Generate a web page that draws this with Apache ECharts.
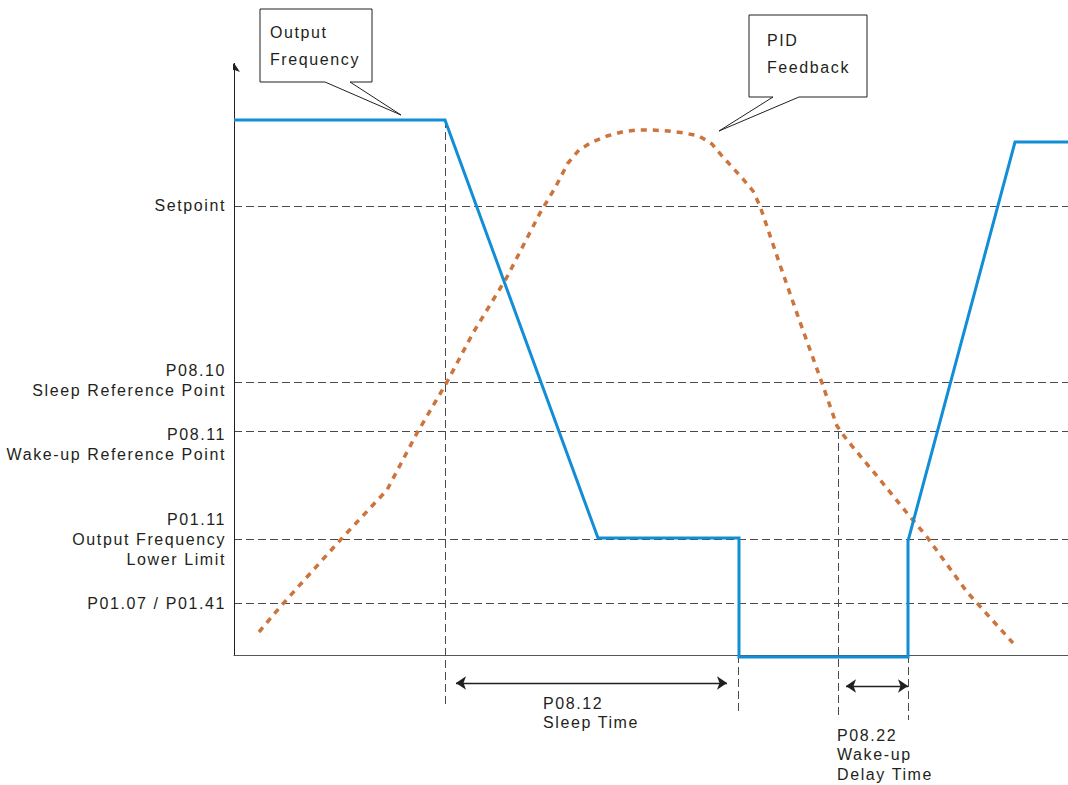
<!DOCTYPE html>
<html><head><meta charset="utf-8">
<script src="https://cdn.jsdelivr.net/npm/echarts@6/dist/echarts.min.js"></script>
<style>html,body{margin:0;padding:0;background:#fff}#c{width:1068px;height:785px}#c text{letter-spacing:1.6px}</style>
</head><body><div id="c"></div>
<script>
// ---- data (x: time units, y: level units) ----
const levelNames = ['Setpoint', 'P08.10\nSleep Reference Point', 'P08.11\nWake-up Reference Point', 'P01.11\nOutput Frequency\nLower Limit', 'P01.07 / P01.41'];
const levelValues = [449, 273, 224, 116, 52];

const outputFreqX = [0, 211, 364, 505, 505, 674, 674, 781, 834];
const outputFreqY = [535, 535, 117, 117, -2, -2, 114, 513, 513];

const pidX = [25, 46, 109, 153, 183, 213, 239, 273, 306, 321, 334, 345, 358, 373, 388, 403, 419, 434, 450, 465, 478, 488, 499, 509, 519, 526, 546, 566, 588, 603, 613, 643, 673, 693, 733, 779];
const pidY = [23, 48, 118, 165, 222, 273, 322, 378, 442, 467, 492, 505, 513, 519, 523, 525, 525, 524, 522, 519, 511, 499, 487, 476, 464, 449, 390, 333, 272, 229, 215, 179, 142, 118, 63, 12];

const markerX = [211, 504, 604, 674];
const markerTop = [535, 0, 224, 0];
const markerBottom = [-50, -58, -63, -65];

const spanNames = ['P08.12\nSleep Time', 'P08.22\nWake-up\nDelay Time'];
const spanStart = [222, 612];
const spanEnd = [493, 674];
const spanY = [-28, -31];
const spanLabelPos = [[309, -58], [603, -99.5]];

const calloutNames = ['Output\nFrequency', 'PID\nFeedback'];
const calloutTip = [[167, 540], [485, 524]];
const calloutBox = [[26, 646], [515, 640]];

const axisTop = 592;

// ---- styles ----
const TXT = '#231f20';
const FONT = 'Liberation Sans';
const FS = 16;
const levelLabelOffsets = [-1, -2, 13, 0, 0];
const calloutSize = [[112, 73, 65, 90, 10, 23], [118, 82, 24, 50, 18, 25]];

const zip = (a, b) => a.map((v, i) => [v, b[i]]);

const guideLines = [];
levelValues.forEach(v => guideLines.push({coords: [[0, v], [834, v]]}));
markerX.forEach((x, i) => guideLines.push({coords: [[x, markerTop[i]], [x, markerBottom[i]]]}));

const chart = echarts.init(document.getElementById('c'), null, {renderer: 'svg'});
chart.setOption({
  animation: false,
  backgroundColor: '#fff',
  grid: {left: 234, right: 0, top: 62, bottom: 0},
  xAxis: {type: 'value', min: 0, max: 834,
    axisLine: {onZero: true, lineStyle: {color: '#555', width: 1}},
    axisTick: {show: false}, axisLabel: {show: false}, splitLine: {show: false}},
  yAxis: {type: 'value', min: -130, max: 593,
    axisLine: {show: false}, axisTick: {show: false}, axisLabel: {show: false}, splitLine: {show: false}},
  series: [
    {type: 'lines', coordinateSystem: 'cartesian2d', silent: true, z: 1,
      lineStyle: {color: '#4a4a4a', width: 1, type: [8, 4], opacity: 1},
      symbol: 'none', data: guideLines},
    {type: 'lines', coordinateSystem: 'cartesian2d', silent: true, z: 3,
      lineStyle: {color: TXT, width: 1, opacity: 1},
      symbol: ['none', 'arrow'], symbolSize: 9,
      data: [{coords: [[0, 0], [0, axisTop]]}]},
    {type: 'lines', coordinateSystem: 'cartesian2d', silent: true, z: 3,
      lineStyle: {color: TXT, width: 1.4, opacity: 1},
      symbol: ['arrow', 'arrow'], symbolSize: 10,
      data: spanStart.map((s, i) => ({coords: [[s, spanY[i]], [spanEnd[i], spanY[i]]]}))},
    {name: 'PID Feedback', type: 'line', data: zip(pidX, pidY), showSymbol: false, symbol: 'none', smooth: false, z: 4,
      lineStyle: {color: '#cd733c', width: 3.5, type: [6, 6], cap: 'butt'}},
    {name: 'Output Frequency', type: 'line', data: zip(outputFreqX, outputFreqY), showSymbol: false, symbol: 'none', z: 5,
      lineStyle: {color: '#118ed6', width: 3, join: 'miter'}},
    {type: 'scatter', symbolSize: 0, silent: true, z: 6, itemStyle: {opacity: 1},
      data: levelValues.map((v, i) => ({value: [0, v], label: {offset: [0, levelLabelOffsets[i]]}, name: levelNames[i]})),
      label: {show: true, position: 'left', distance: 8, align: 'right', color: TXT, opacity: 1, fontFamily: FONT, fontSize: FS, lineHeight: 20,
        formatter: p => p.name}},
    {type: 'scatter', symbolSize: 0, silent: true, z: 6, itemStyle: {opacity: 1},
      data: spanLabelPos.map((p, i) => ({value: p, name: spanNames[i]})),
      label: {show: true, position: 'right', distance: 0, align: 'left', color: TXT, opacity: 1, fontFamily: FONT, fontSize: FS, lineHeight: 19.5,
        formatter: p => p.name}},
    {type: 'custom', coordinateSystem: 'cartesian2d', silent: true, clip: false, z: 7,
      data: calloutTip.map((t, i) => [t[0], t[1], calloutBox[i][0], calloutBox[i][1], i]),
      renderItem: (params, api) => {
        const i = api.value(4);
        const tip = api.coord([api.value(0), api.value(1)]);
        const tl = api.coord([api.value(2), api.value(3)]);
        const [w, h, n1, n2, tx, ty] = calloutSize[i];
        const L = tl[0], T = tl[1], R = L + w, B = T + h;
        const pts = [[L, T], [R, T], [R, B], [L + n2, B], tip, [L + n1, B], [L, B]];
        const lines = calloutNames[i].split('\n');
        const children = [{type: 'polygon', shape: {points: pts}, style: {fill: '#fff', stroke: TXT, lineWidth: 1}}];
        lines.forEach((s, k) => children.push({type: 'text', x: L + tx, y: T + ty + k * 27,
          style: {text: s, fill: TXT, font: FS + 'px "' + FONT + '"', textAlign: 'left', textVerticalAlign: 'middle'}}));
        return {type: 'group', children};
      }}
  ]
});
</script></body></html>
